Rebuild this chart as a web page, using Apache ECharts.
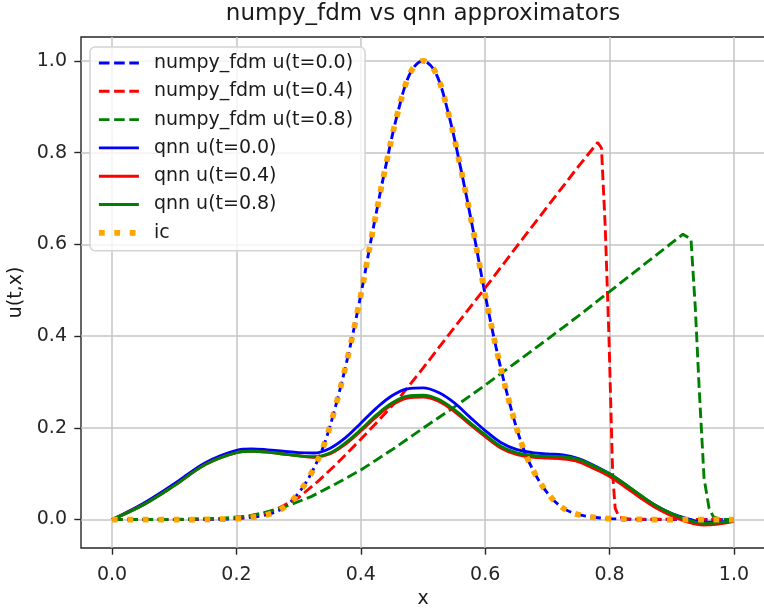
<!DOCTYPE html>
<html>
<head>
<meta charset="UTF-8">
<title>numpy_fdm vs qnn approximators</title>
<script src="https://cdn.jsdelivr.net/npm/echarts@6/dist/echarts.min.js"></script>
<style>
  html, body { margin: 0; padding: 0; background: #fff; }
  #main { width: 764px; height: 610px; }
</style>
</head>
<body>
<div id="main"></div>
<script>
// tick positions on both axes
const xTicks = [0, 0.2, 0.4, 0.6, 0.8, 1.0];
const yTicks = [0, 0.2, 0.4, 0.6, 0.8, 1.0];

// initial condition (numpy_fdm at t=0 sits exactly on it)
const icX = [0, 0.1, 0.2, 0.24, 0.26, 0.28, 0.30, 0.32, 0.34, 0.36, 0.38, 0.40, 0.42, 0.44, 0.46, 0.48, 0.50,
             0.52, 0.54, 0.56, 0.58, 0.60, 0.62, 0.64, 0.66, 0.68, 0.70, 0.72, 0.74, 0.76, 0.80, 0.90, 1.0];
const icU = [0, 0, 0.002, 0.008, 0.015, 0.030, 0.058, 0.10, 0.16, 0.25, 0.36, 0.49, 0.635, 0.77, 0.89, 0.975, 1.0,
             0.975, 0.89, 0.77, 0.635, 0.49, 0.36, 0.25, 0.16, 0.10, 0.058, 0.030, 0.015, 0.008, 0.002, 0, 0];
const fdm00U = icU.slice();

// numpy_fdm at t=0.4
const fdm04X = [0, 0.1, 0.2, 0.24, 0.27, 0.30, 0.33, 0.36, 0.40, 0.43, 0.46, 0.50, 0.55, 0.60, 0.65, 0.70, 0.75,
                0.781, 0.787, 0.793, 0.799, 0.805, 0.809, 0.815, 0.83, 1.0];
const fdm04U = [0, 0, 0.003, 0.012, 0.026, 0.048, 0.082, 0.12, 0.175, 0.218, 0.262, 0.33, 0.418, 0.505, 0.594, 0.682, 0.77,
                0.822, 0.81, 0.64, 0.40, 0.10, 0.025, 0.006, 0.001, 0];

// numpy_fdm at t=0.8
const fdm08X = [0, 0.1, 0.18, 0.22, 0.26, 0.29, 0.32, 0.36, 0.40, 0.45, 0.50, 0.55, 0.60, 0.65, 0.70, 0.75, 0.80,
                0.85, 0.90, 0.918, 0.931, 0.938, 0.944, 0.952, 0.96, 0.967, 0.98, 1.0];
const fdm08U = [0, 0, 0.003, 0.008, 0.020, 0.034, 0.05, 0.078, 0.108, 0.152, 0.199, 0.245, 0.293, 0.343, 0.393, 0.444, 0.497,
                0.55, 0.603, 0.622, 0.611, 0.46, 0.29, 0.09, 0.025, 0.006, 0, 0];

// qnn approximations, shared x grid
const qnnX = [0, 0.05, 0.10, 0.15, 0.20, 0.225, 0.25, 0.275, 0.30, 0.325, 0.35, 0.375, 0.40, 0.425, 0.45, 0.475, 0.50,
              0.525, 0.55, 0.575, 0.60, 0.625, 0.65, 0.675, 0.70, 0.725, 0.75, 0.775, 0.80, 0.825, 0.85, 0.875, 0.90,
              0.925, 0.95, 0.975, 1.0];
const qnn00U = [0, 0.035, 0.078, 0.124, 0.151, 0.154, 0.152, 0.149, 0.146, 0.145, 0.155, 0.178, 0.21, 0.243, 0.270, 0.285, 0.287,
                0.277, 0.255, 0.224, 0.194, 0.168, 0.153, 0.146, 0.143, 0.141, 0.133, 0.118, 0.100, 0.077, 0.052, 0.030, 0.013,
                0.002, -0.006, -0.006, -0.002];
const qnn04U = [0, 0.032, 0.074, 0.120, 0.146, 0.149, 0.147, 0.143, 0.139, 0.136, 0.143, 0.164, 0.193, 0.224, 0.250, 0.265, 0.267,
                0.258, 0.236, 0.208, 0.181, 0.156, 0.142, 0.136, 0.134, 0.132, 0.126, 0.111, 0.094, 0.071, 0.047, 0.025, 0.008,
                -0.005, -0.012, -0.010, -0.004];
const qnn08U = [0, 0.032, 0.074, 0.120, 0.146, 0.149, 0.147, 0.143, 0.139, 0.137, 0.145, 0.167, 0.196, 0.228, 0.254, 0.269, 0.271,
                0.262, 0.240, 0.212, 0.185, 0.160, 0.146, 0.140, 0.138, 0.137, 0.131, 0.116, 0.100, 0.077, 0.053, 0.030, 0.013,
                0.000, -0.008, -0.007, -0.002];

const FONT = 'DejaVu Sans';
const DASH = [10.6, 4.6];
const DOT = [5.8, 9.6];

function pairs(xs, ys) {
  return xs.map((x, i) => [x, ys[i]]);
}

function line(name, color, xs, ys, dash, width, smooth) {
  return {
    name: name,
    type: 'line',
    symbol: 'none',
    smooth: smooth ? 0.35 : false,
    data: pairs(xs, ys),
    lineStyle: { color: color, width: width, type: dash || 'solid', cap: 'butt' },
    itemStyle: { color: color }
  };
}

const series = [
  line('numpy_fdm u(t=0.0)', '#0000ff', icX, fdm00U, DASH, 2.9, true),
  line('numpy_fdm u(t=0.4)', '#ff0000', fdm04X, fdm04U, DASH, 2.9, false),
  line('numpy_fdm u(t=0.8)', '#008000', fdm08X, fdm08U, DASH, 2.9, false),
  line('qnn u(t=0.0)', '#0000ff', qnnX, qnn00U, null, 2.9, true),
  line('qnn u(t=0.4)', '#ff0000', qnnX, qnn04U, null, 2.9, true),
  line('qnn u(t=0.8)', '#008000', qnnX, qnn08U, null, 2.9, true),
  line('ic', '#ffa500', icX, icU, DOT, 5.8, true)
];

const axisCommon = {
  type: 'value',
  nameLocation: 'middle',
  nameTextStyle: { fontFamily: FONT, fontSize: 19, color: '#1a1a1a' },
  axisLine: { show: false, onZero: false },
  axisTick: { show: true, length: 6.7, lineStyle: { color: '#262626', width: 1.4 } },
  axisLabel: { fontFamily: FONT, fontSize: 19, color: '#262626', margin: 14, formatter: v => v.toFixed(1) },
  splitLine: { show: true, lineStyle: { color: '#c4c4c4', width: 1.5 } }
};

const chart = echarts.init(document.getElementById('main'), null, { renderer: 'canvas' });
chart.setOption({
  animation: false,
  backgroundColor: '#ffffff',
  textStyle: { fontFamily: FONT },
  title: {
    text: 'numpy_fdm vs qnn approximators',
    left: 423,
    top: 3,
    padding: 0,
    textAlign: 'center',
    textStyle: { fontFamily: FONT, fontSize: 23, fontWeight: 'normal', color: '#1a1a1a' }
  },
  grid: {
    left: 81, top: 37, right: -1, bottom: 62,
    outerBoundsMode: 'none',
    containLabel: false,
    show: true, borderColor: '#262626', borderWidth: 1.4, backgroundColor: 'transparent'
  },
  legend: {
    orient: 'vertical',
    left: 90,
    top: 47,
    padding: [6, 12, 8, 6],
    itemWidth: 40,
    itemHeight: 14,
    itemGap: 8.3,
    backgroundColor: 'rgba(255,255,255,0.8)',
    borderColor: '#d4d4d4',
    borderWidth: 1.5,
    borderRadius: 5,
    itemStyle: { opacity: 0 },
    textStyle: { fontFamily: FONT, fontSize: 19, lineHeight: 20, color: '#1a1a1a', padding: [0, 0, 0, 10] },
    data: series.map(s => ({ name: s.name, lineStyle: { width: s.lineStyle.width } }))
  },
  xAxis: Object.assign({}, axisCommon, {
    min: -0.05, max: 1.05,
    name: 'x', nameGap: 42,
    axisTick: Object.assign({}, axisCommon.axisTick, { customValues: xTicks }),
    axisLabel: Object.assign({}, axisCommon.axisLabel, { customValues: xTicks, margin: 18 })
  }),
  yAxis: Object.assign({}, axisCommon, {
    min: -0.062, max: 1.052,
    name: 'u(t,x)', nameGap: 47,
    axisTick: Object.assign({}, axisCommon.axisTick, { customValues: yTicks }),
    axisLabel: Object.assign({}, axisCommon.axisLabel, { customValues: yTicks })
  }),
  series: series
});
</script>
</body>
</html>
